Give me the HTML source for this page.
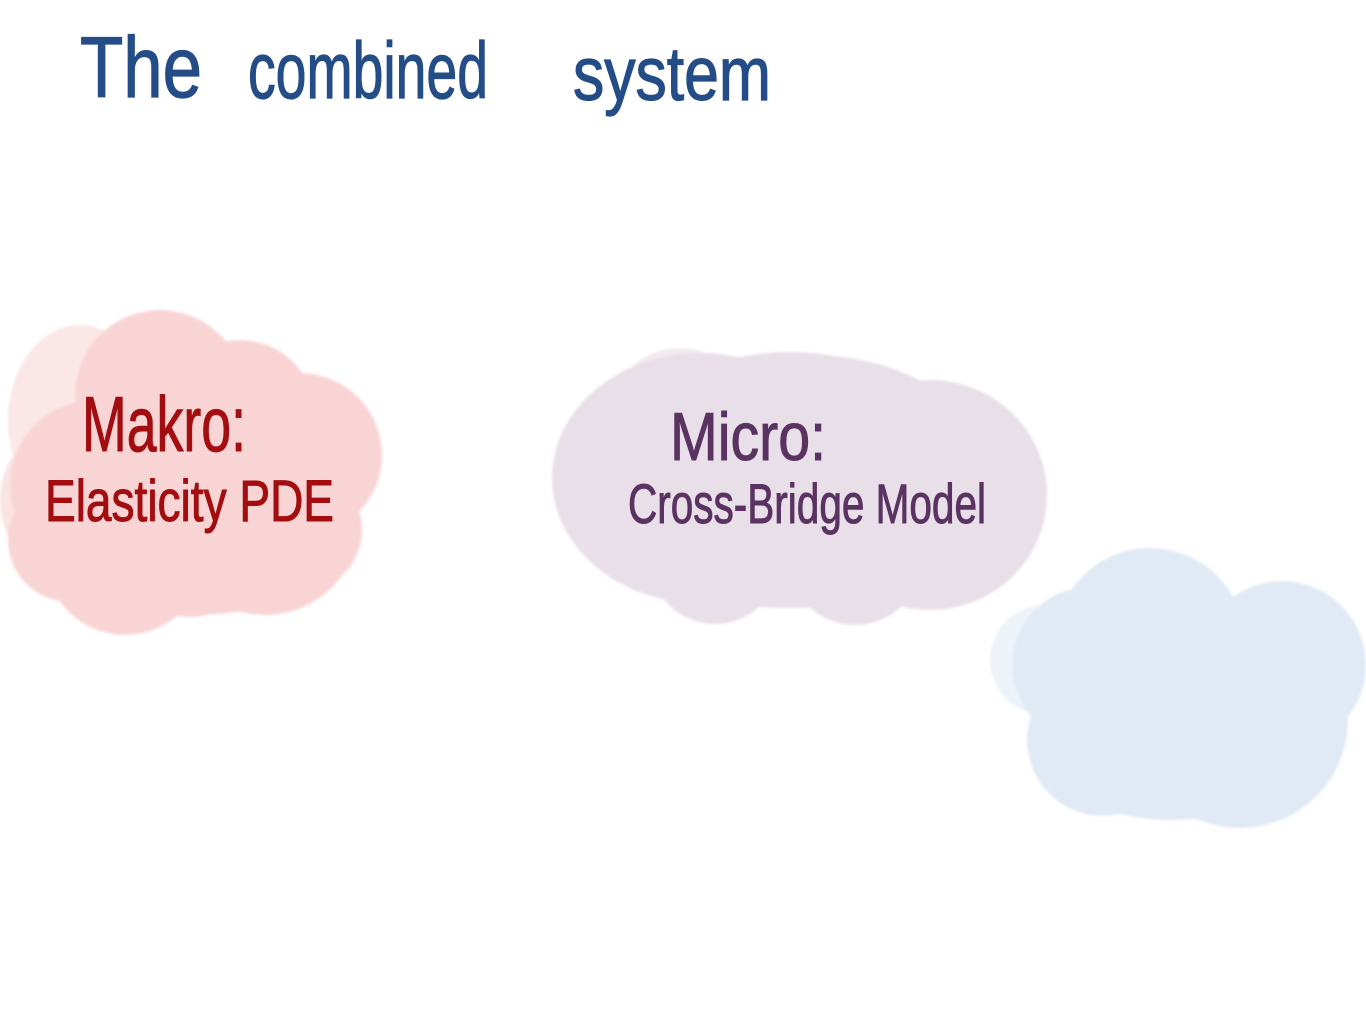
<!DOCTYPE html>
<html>
<head>
<meta charset="utf-8">
<style>
  html,body{margin:0;padding:0;background:#fff;}
  svg{display:block;}
  text{font-family:"Liberation Sans", "DejaVu Sans", sans-serif;}
</style>
</head>
<body>
<svg width="1366" height="1024" viewBox="0 0 1366 1024" xmlns="http://www.w3.org/2000/svg">
  <defs>
    <filter id="soft" x="-10%" y="-10%" width="120%" height="120%">
      <feGaussianBlur stdDeviation="1.2"/>
    </filter>
  </defs>

  <!-- Red cloud -->
  <g filter="url(#soft)">
    <ellipse cx="80" cy="420" rx="72" ry="95" fill="#fbe7e7"/>
    <ellipse cx="60" cy="500" rx="60" ry="72" fill="#fbe4e4"/>
    <g fill="#f9d4d5">
      <circle cx="160" cy="395" r="85"/>
      <circle cx="240" cy="415" r="75"/>
      <circle cx="300" cy="455" r="82"/>
      <circle cx="265" cy="520" r="95"/>
      <circle cx="125" cy="555" r="80"/>
      <circle cx="95" cy="485" r="85"/>
      <circle cx="70" cy="540" r="62"/>
      <ellipse cx="200" cy="480" rx="150" ry="120"/>
      <ellipse cx="190" cy="560" rx="140" ry="55"/>
      <circle cx="190" cy="545" r="72"/>
      <circle cx="300" cy="530" r="62"/>
    </g>
  </g>

  <!-- Purple cloud -->
  <g filter="url(#soft)">
    <circle cx="680" cy="420" r="72" fill="#f1eaf0"/>
    <g fill="#e9dfe8">
      <ellipse cx="700" cy="478" rx="148" ry="125"/>
      <ellipse cx="930" cy="495" rx="117" ry="115"/>
      <ellipse cx="810" cy="470" rx="175" ry="115"/>
      <circle cx="715" cy="558" r="66"/>
      <circle cx="855" cy="558" r="67"/>
      <ellipse cx="790" cy="440" rx="150" ry="88"/>
      <ellipse cx="790" cy="560" rx="140" ry="48"/>
    </g>
  </g>

  <!-- Blue cloud -->
  <g filter="url(#soft)">
    <circle cx="1045" cy="660" r="55" fill="#eef3f9"/>
    <g fill="#e1eaf4">
      <circle cx="1150" cy="643" r="95"/>
      <circle cx="1282" cy="665" r="84"/>
      <circle cx="1240" cy="720" r="108"/>
      <circle cx="1103" cy="740" r="76"/>
      <circle cx="1090" cy="665" r="78"/>
      <ellipse cx="1190" cy="700" rx="140" ry="100"/>
      <ellipse cx="1170" cy="765" rx="110" ry="55"/>
    </g>
  </g>

  <!-- Title -->
  <g fill="#244d87" stroke="#244d87" stroke-width="1.2">
    <text x="80" y="97" font-size="86" textLength="122" lengthAdjust="spacingAndGlyphs">The</text>
    <text x="248" y="98" font-size="80" textLength="240" lengthAdjust="spacingAndGlyphs">combined</text>
    <text x="573" y="100" font-size="76" textLength="198" lengthAdjust="spacingAndGlyphs">system</text>
  </g>

  <!-- Makro -->
  <g fill="#a30d10" stroke="#a30d10" stroke-width="1">
    <text x="82" y="451" font-size="78" textLength="164" lengthAdjust="spacingAndGlyphs">Makro:</text>
    <text x="45" y="521" font-size="58" textLength="289" lengthAdjust="spacingAndGlyphs">Elasticity PDE</text>
  </g>

  <!-- Micro -->
  <g fill="#5a3362" stroke="#5a3362" stroke-width="1">
    <text x="670" y="460" font-size="68" textLength="156" lengthAdjust="spacingAndGlyphs">Micro:</text>
    <text x="628" y="523" font-size="56" textLength="358" lengthAdjust="spacingAndGlyphs">Cross-Bridge Model</text>
  </g>
</svg>
</body>
</html>
